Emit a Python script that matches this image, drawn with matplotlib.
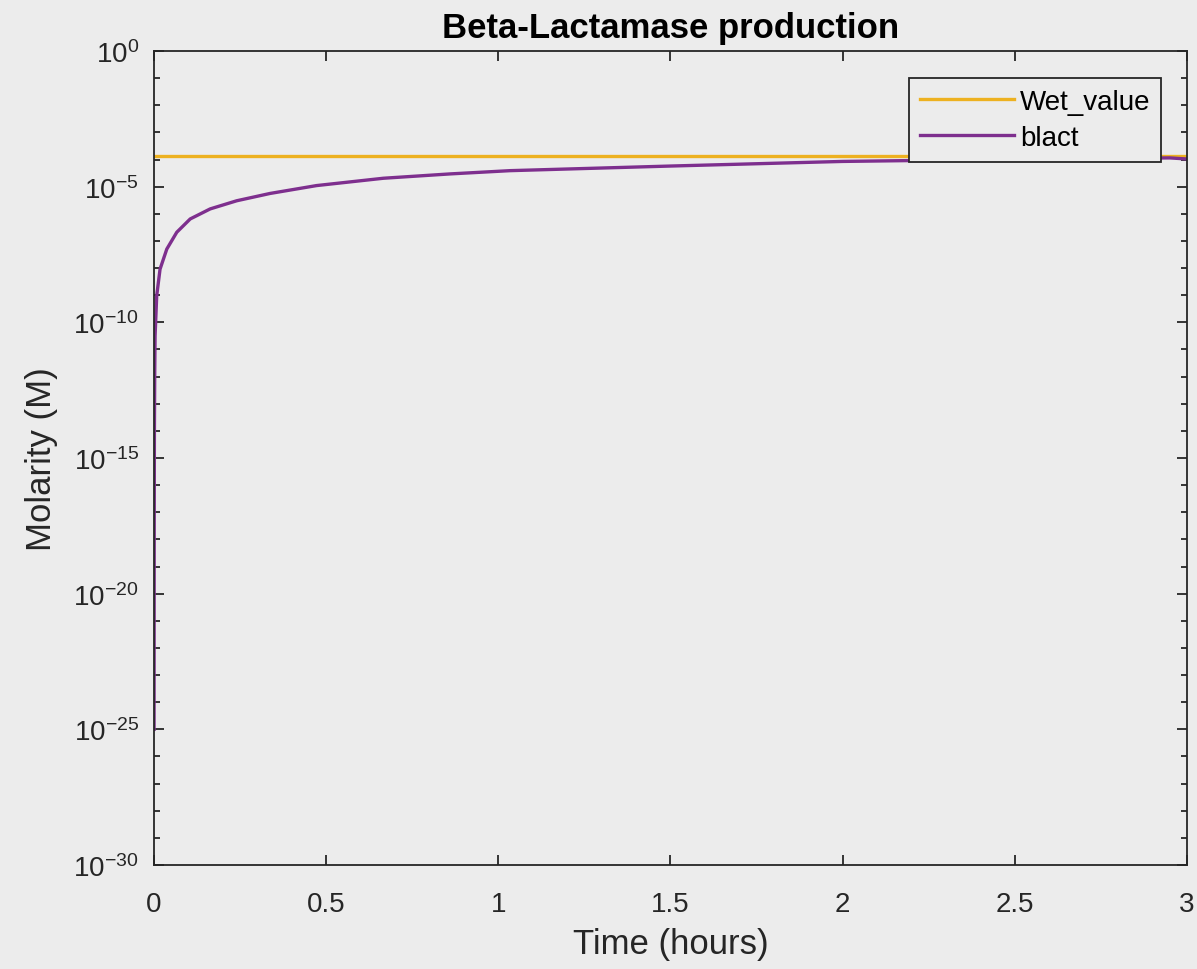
# Beta-Lactamase production vs time (MATLAB-style log plot)
import numpy as np
import matplotlib.pyplot as plt
from matplotlib.ticker import FixedLocator, NullFormatter

plt.rcParams['font.family'] = ['Liberation Sans', 'DejaVu Sans']
plt.rcParams['mathtext.fontset'] = 'custom'
plt.rcParams['mathtext.rm'] = 'Liberation Sans'
plt.rcParams['mathtext.it'] = 'Liberation Sans'

# Data
wet_time = [0, 3]
wet_value = [1.32e-4, 1.32e-4]

blact_time = [0.0, 0.0005, 0.001, 0.002, 0.003, 0.0077, 0.0174, 0.037, 0.066,
              0.105, 0.163, 0.240, 0.337, 0.472, 0.666, 0.860, 1.034, 1.5,
              2.0, 2.5, 2.95, 3.0]
blact_log = [-25.0, -17.5, -14.0, -11.8, -10.5, -9.02, -8.04, -7.30, -6.68,
             -6.19, -5.82, -5.52, -5.25, -4.96, -4.69, -4.53, -4.41, -4.24,
             -4.07, -3.99, -3.94, -3.98]
blact = [10.0 ** v for v in blact_log]

x_ticks = [0, 0.5, 1, 1.5, 2, 2.5, 3]
x_labels = ['0', '0.5', '1', '1.5', '2', '2.5', '3']
y_ticks = [1e-30, 1e-25, 1e-20, 1e-15, 1e-10, 1e-5, 1e0]
y_labels = [r'$10^{-30}$', r'$10^{-25}$', r'$10^{-20}$', r'$10^{-15}$',
            r'$10^{-10}$', r'$10^{-5}$', r'$10^{0}$']

bg = '#ececec'
ink = '#262626'

fig = plt.figure(figsize=(11.97, 9.70), dpi=100, facecolor=bg)
ax = fig.add_axes([0.1287, 0.1072, 0.8629, 0.8392], facecolor=bg)

ax.plot(wet_time, wet_value, color='#EDB120', lw=2.4, label='Wet_value')
ax.plot(blact_time, blact, color='#7E2F8E', lw=2.4, label='blact')

ax.set_yscale('log')
ax.set_xlim(0, 3)
ax.set_ylim(1e-30, 1e0)

ax.set_xticks(x_ticks)
ax.set_xticklabels(x_labels)
ax.yaxis.set_major_locator(FixedLocator(y_ticks))
ax.set_yticklabels(y_labels)
minor = [10.0 ** e for e in range(-30, 1) if e % 5 != 0]
ax.yaxis.set_minor_locator(FixedLocator(minor))
ax.yaxis.set_minor_formatter(NullFormatter())
ax.xaxis.set_minor_locator(FixedLocator([]))

ax.tick_params(which='both', direction='in', top=True, right=True,
               colors=ink, labelcolor=ink, width=1.3)
ax.tick_params(which='major', length=7, labelsize=20)
ax.tick_params(which='minor', length=4.3)
ax.tick_params(axis='x', which='major', pad=19)
ax.tick_params(axis='y', which='major', pad=11)
for s in ax.spines.values():
    s.set_color(ink)
    s.set_linewidth(1.3)

ax.set_title('Beta-Lactamase production', fontsize=25, fontweight='bold',
             color='black', pad=10)
ax.set_xlabel('Time (hours)', fontsize=25, color=ink, labelpad=7)
ax.set_ylabel('Molarity (M)', fontsize=25, color=ink, labelpad=11)

leg = ax.legend(loc='upper right', bbox_to_anchor=(0.9748, 0.9668),
                fontsize=20, frameon=True, fancybox=False, facecolor=bg,
                edgecolor=ink, framealpha=1, handlelength=3.4,
                borderpad=0.38, labelspacing=0.38, handletextpad=0.2,
                borderaxespad=0)
leg.get_frame().set_linewidth(1.3)

fig.savefig('out.png', dpi=100, facecolor=bg)
